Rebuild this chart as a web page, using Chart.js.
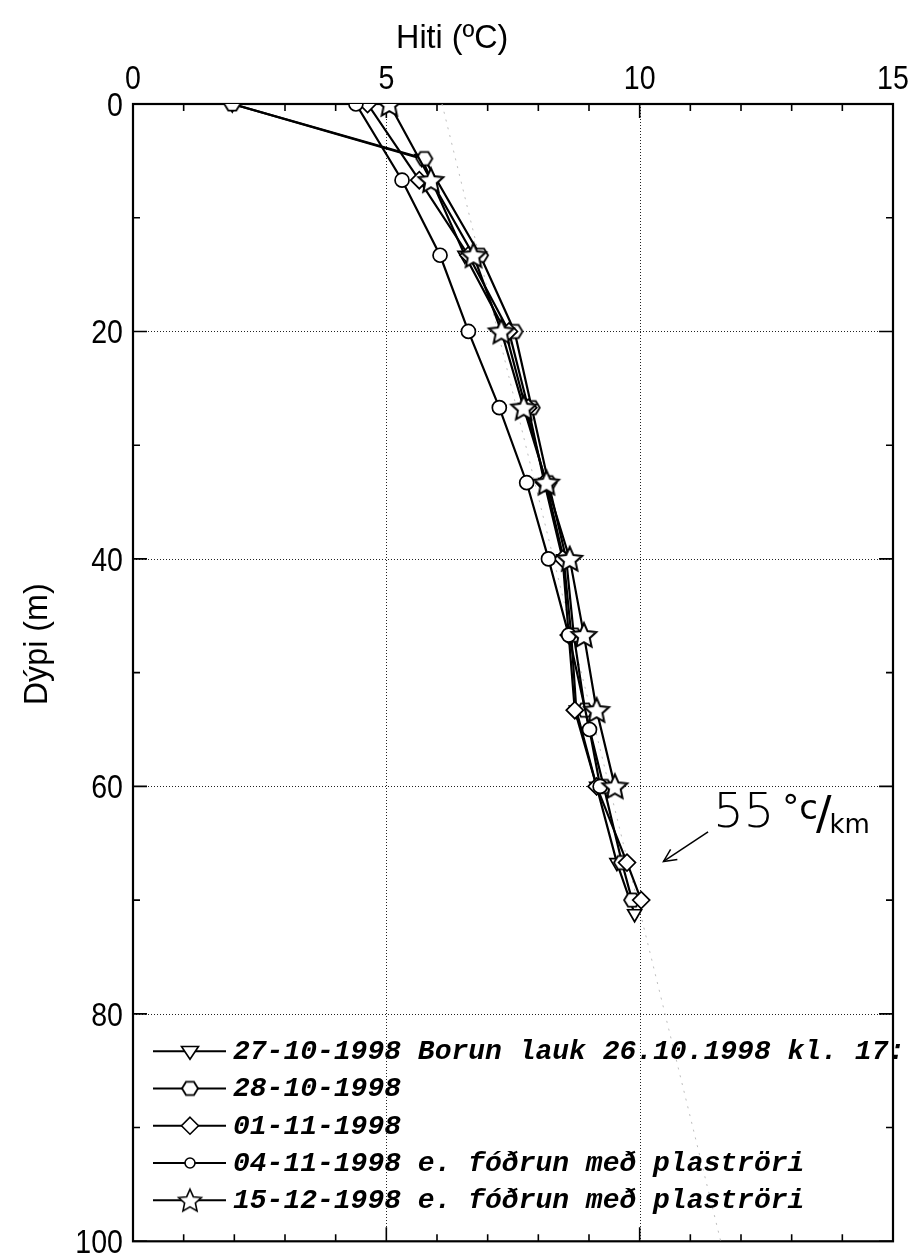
<!DOCTYPE html>
<html>
<head>
<meta charset="utf-8">
<script src="https://cdn.jsdelivr.net/npm/chart.js@4/dist/chart.umd.min.js"></script>
<style>
html,body{margin:0;padding:0;background:#fff;}
#wrap{width:915px;height:1256px;position:relative;}
</style>
</head>
<body>
<div id="wrap"><canvas id="c" width="915" height="1256"></canvas></div>
<script>
// ---------- data ----------
const seriesLabels = [
  '27-10-1998 Borun lauk 26.10.1998 kl. 17:',
  '28-10-1998',
  '01-11-1998',
  '04-11-1998 e. fóðrun með plaströri',
  '15-12-1998 e. fóðrun með plaströri'
];
// depth (m) and temperature (°C) per measurement
const depth_271098 = [0, 4.8, 13.3, 20, 26.7, 33.3, 40, 46.7, 53.3, 60, 66.7, 71.2];
const temp_271098  = [1.96, 5.70, 6.55, 7.35, 7.75, 8.15, 8.50, 8.65, 8.75, 9.15, 9.55, 9.90];

const depth_281098 = [0, 4.8, 13.3, 20, 26.7, 33.3, 40, 46.7, 53.3, 60, 66.7, 70];
const temp_281098  = [1.96, 5.75, 6.85, 7.53, 7.87, 8.20, 8.55, 8.70, 8.92, 9.29, 9.65, 9.85];

const depth_011198 = [0, 6.7, 13.3, 20, 26.7, 33.3, 40, 46.7, 53.3, 60, 66.7, 70];
const temp_011198  = [4.63, 5.65, 6.62, 7.42, 7.80, 8.12, 8.48, 8.60, 8.72, 9.15, 9.75, 10.03];

const depth_041198 = [0, 6.7, 13.3, 20, 26.7, 33.3, 40, 46.7, 55, 60];
const temp_041198  = [4.40, 5.31, 6.06, 6.62, 7.23, 7.77, 8.20, 8.60, 9.01, 9.22];

const depth_151298 = [0, 6.7, 13.3, 20, 26.7, 33.3, 40, 46.7, 53.3, 60];
const temp_151298  = [5.06, 5.88, 6.72, 7.27, 7.71, 8.16, 8.62, 8.90, 9.15, 9.51];

// hand-drawn pencil gradient line (55 °C/km) end points
const pencilDepth = [0, 100];
const pencilTemp  = [6.1, 11.6];

// axis ticks
const xTickLabels = [0, 5, 10, 15];
const xMinorTicks = [1, 2, 3, 4, 6, 7, 8, 9, 11, 12, 13, 14];
const xGridValues = [5, 10];
const yTickLabels = [0, 20, 40, 60, 80, 100];
const yMinorTicks = [10, 30, 50, 70, 90];
const yGridValues = [20, 40, 60, 80];

const xTitle = 'Hiti (ºC)';
const yTitle = 'Dýpi (m)';
const noteText = ['55', '°c', '/', 'km'];

// ---------- marker images ----------
function makeStar(R, lw) {
  const s = Math.ceil(2 * R + lw * 2 + 2);
  const c = document.createElement('canvas'); c.width = c.height = s;
  const g = c.getContext('2d'); g.translate(s / 2, s / 2 + 1);
  g.beginPath();
  for (let i = 0; i < 10; i++) {
    const r = i % 2 ? R * 0.47 : R;
    const a = -Math.PI / 2 + i * Math.PI / 5;
    g.lineTo(r * Math.cos(a), r * Math.sin(a));
  }
  g.closePath(); g.fillStyle = '#fff'; g.fill();
  g.lineWidth = lw; g.strokeStyle = '#000'; g.lineJoin = 'miter'; g.stroke();
  return c;
}
function makeHex(R, lw) {
  const s = Math.ceil(2 * R + lw * 2 + 2);
  const c = document.createElement('canvas'); c.width = c.height = s;
  const g = c.getContext('2d'); g.translate(s / 2, s / 2);
  g.beginPath();
  for (let i = 0; i < 6; i++) {
    const a = i * Math.PI / 3;
    g.lineTo(R * Math.cos(a), R * 0.95 * Math.sin(a));
  }
  g.closePath(); g.fillStyle = '#fff'; g.fill();
  g.lineWidth = lw; g.strokeStyle = '#000'; g.stroke();
  return c;
}
const starImg = makeStar(13, 2);
const starImgSmall = makeStar(12, 1.6);
const hexImg = makeHex(8, 1.8);

function pts(xs, ys) { return xs.map((v, i) => ({x: v, y: ys[i]})); }

const common = {
  showLine: true, tension: 0, borderColor: '#000', borderWidth: 2.2,
  pointBackgroundColor: '#fff', pointBorderColor: '#000', pointBorderWidth: 1.7,
  clip: 0
};

const datasets = [
  Object.assign({}, common, {label: seriesLabels[4], data: pts(temp_151298, depth_151298), pointStyle: starImg, pointRadius: 13, legendStyle: 'star'}),
  Object.assign({}, common, {label: seriesLabels[3], data: pts(temp_041198, depth_041198), pointStyle: 'circle', pointRadius: 7, legendStyle: 'circle'}),
  Object.assign({}, common, {label: seriesLabels[2], data: pts(temp_011198, depth_011198), pointStyle: 'rectRot', pointRadius: 8.5, legendStyle: 'diamond'}),
  Object.assign({}, common, {label: seriesLabels[1], data: pts(temp_281098, depth_281098), pointStyle: hexImg, pointRadius: 8, legendStyle: 'hex'}),
  Object.assign({}, common, {label: seriesLabels[0], data: pts(temp_271098, depth_271098), pointStyle: 'triangle', rotation: 180, pointRadius: 8, legendStyle: 'tri'}),
  {label: '', data: pts(pencilTemp, pencilDepth), showLine: true, borderColor: '#bdbdbd', borderWidth: 1, borderDash: [2, 6], pointRadius: 0, clip: 0, legendStyle: null}
];

const labelFamily = '"Liberation Sans", Arial, sans-serif';
const narrow = 0.84;

// ---------- frame, ticks, grid ----------
const framePlugin = {
  id: 'frame',
  beforeDatasetsDraw(chart) {
    const {ctx, chartArea: a, scales: {x, y}} = chart;
    ctx.save();
    ctx.strokeStyle = '#222'; ctx.lineWidth = 1; ctx.setLineDash([1, 2]);
    xGridValues.forEach(v => { const px = Math.round(x.getPixelForValue(v)) + 0.5; ctx.beginPath(); ctx.moveTo(px, a.top); ctx.lineTo(px, a.bottom); ctx.stroke(); });
    yGridValues.forEach(v => { const py = Math.round(y.getPixelForValue(v)) + 0.5; ctx.beginPath(); ctx.moveTo(a.left, py); ctx.lineTo(a.right, py); ctx.stroke(); });
    ctx.setLineDash([]);
    ctx.strokeStyle = '#000'; ctx.lineWidth = 1.6;
    const xt = (v, len) => { const px = x.getPixelForValue(v); ctx.beginPath(); ctx.moveTo(px, a.top); ctx.lineTo(px, a.top + len); ctx.moveTo(px, a.bottom); ctx.lineTo(px, a.bottom - len); ctx.stroke(); };
    const yt = (v, len) => { const py = y.getPixelForValue(v); ctx.beginPath(); ctx.moveTo(a.left, py); ctx.lineTo(a.left + len, py); ctx.moveTo(a.right, py); ctx.lineTo(a.right - len, py); ctx.stroke(); };
    xMinorTicks.forEach(v => xt(v, 7));
    xTickLabels.forEach(v => xt(v, 14));
    yMinorTicks.forEach(v => yt(v, 7));
    yTickLabels.forEach(v => yt(v, 14));
    ctx.lineWidth = 2.2; ctx.strokeRect(a.left, a.top, a.right - a.left, a.bottom - a.top);
    ctx.restore();
  }
};

// axis labels and titles drawn at the scales' own pixel positions
function narrowText(ctx, text, cx, cy, align, factor) {
  ctx.save();
  ctx.translate(cx, cy); ctx.scale(factor, 1);
  ctx.textAlign = align; ctx.fillText(text, 0, 0);
  ctx.restore();
}
const axisLabelPlugin = {
  id: 'axisLabels',
  afterDraw(chart) {
    const {ctx, chartArea: a, scales: {x, y}} = chart;
    ctx.save();
    ctx.fillStyle = '#000'; ctx.textBaseline = 'alphabetic';
    ctx.font = '34px ' + labelFamily;
    xTickLabels.forEach(v => narrowText(ctx, String(v), x.getPixelForValue(v), a.top - 15, 'center', narrow));
    yTickLabels.forEach(v => narrowText(ctx, String(v), a.left - 10, y.getPixelForValue(v) + 12, 'right', narrow));
    ctx.font = '34px ' + labelFamily;
    narrowText(ctx, xTitle, x.getPixelForValue(6.3), 48, 'center', 0.95);
    ctx.save();
    ctx.translate(47, y.getPixelForValue(47.5)); ctx.rotate(-Math.PI / 2);
    ctx.scale(0.95, 1); ctx.textAlign = 'center'; ctx.fillText(yTitle, 0, 0);
    ctx.restore();
    ctx.restore();
  }
};

// ---------- legend & note ----------
function drawMarker(ctx, style, cx, cy) {
  ctx.save();
  ctx.fillStyle = '#fff'; ctx.strokeStyle = '#000'; ctx.lineWidth = 1.6;
  if (style === 'star') { ctx.drawImage(starImgSmall, cx - starImgSmall.width / 2, cy - starImgSmall.height / 2); }
  else if (style === 'hex') { ctx.drawImage(hexImg, cx - hexImg.width / 2, cy - hexImg.height / 2); }
  else if (style === 'circle') { ctx.beginPath(); ctx.arc(cx, cy, 5, 0, Math.PI * 2); ctx.fill(); ctx.stroke(); }
  else if (style === 'diamond') { const r = 8.5; ctx.beginPath(); ctx.moveTo(cx, cy - r); ctx.lineTo(cx + r, cy); ctx.lineTo(cx, cy + r); ctx.lineTo(cx - r, cy); ctx.closePath(); ctx.fill(); ctx.stroke(); }
  else if (style === 'tri') { const r = 8.5; ctx.beginPath(); ctx.moveTo(cx - r, cy - r * 0.55); ctx.lineTo(cx + r, cy - r * 0.55); ctx.lineTo(cx, cy + r * 0.95); ctx.closePath(); ctx.fill(); ctx.stroke(); }
  ctx.restore();
}

const legendPlugin = {
  id: 'customLegend',
  afterDraw(chart) {
    const {ctx, chartArea: a, scales: {y}} = chart;
    const order = [4, 3, 2, 1, 0];
    const y80 = y.getPixelForValue(80);
    const step = (a.bottom - y80) / 6.1;
    ctx.save();
    ctx.font = 'italic bold 28px "Liberation Mono", "Courier New", monospace';
    ctx.fillStyle = '#000'; ctx.textBaseline = 'middle'; ctx.textAlign = 'left';
    order.forEach((di, r) => {
      const ds = chart.data.datasets[di];
      const yy = y80 + (r + 1) * step;
      ctx.strokeStyle = '#000'; ctx.lineWidth = 2;
      ctx.beginPath(); ctx.moveTo(a.left + 20, yy); ctx.lineTo(a.left + 93, yy); ctx.stroke();
      drawMarker(ctx, ds.legendStyle, a.left + 57, yy);
      ctx.fillText(ds.label, a.left + 100, yy + 1);
    });
    ctx.restore();
  }
};

const notePlugin = {
  id: 'note',
  afterDatasetsDraw(chart) {
    const {ctx, scales: {x, y}} = chart;
    const ax = x.getPixelForValue(11.45), ay = y.getPixelForValue(63.6);
    ctx.save();
    ctx.fillStyle = '#000'; ctx.textBaseline = 'alphabetic'; ctx.textAlign = 'left';
    ctx.font = '300 48px "DejaVu Sans", sans-serif';
    ctx.fillText(noteText[0], ax, ay);
    let w = ctx.measureText(noteText[0]).width;
    ctx.font = '34px "DejaVu Sans", sans-serif';
    ctx.fillText(noteText[1], ax + w + 8, ay - 8);
    w += 8 + ctx.measureText(noteText[1]).width;
    ctx.font = '46px "DejaVu Sans", sans-serif';
    ctx.fillText(noteText[2], ax + w - 2, ay + 2);
    w += ctx.measureText(noteText[2]).width;
    ctx.font = '26px "DejaVu Sans", sans-serif';
    ctx.fillText(noteText[3], ax + w - 4, ay + 6);
    const tx = x.getPixelForValue(10.47), ty = y.getPixelForValue(66.6);
    const fx = x.getPixelForValue(11.35), fy = y.getPixelForValue(64.0);
    ctx.strokeStyle = '#000'; ctx.lineWidth = 1.5;
    ctx.beginPath(); ctx.moveTo(fx, fy); ctx.lineTo(tx, ty); ctx.stroke();
    const ang = Math.atan2(ty - fy, tx - fx), L = 14;
    ctx.beginPath();
    ctx.moveTo(tx - L * Math.cos(ang - 0.45), ty - L * Math.sin(ang - 0.45));
    ctx.lineTo(tx, ty);
    ctx.lineTo(tx - L * Math.cos(ang + 0.45), ty - L * Math.sin(ang + 0.45));
    ctx.stroke();
    ctx.restore();
  }
};

new Chart(document.getElementById('c'), {
  type: 'scatter',
  data: {datasets},
  options: {
    responsive: false, animation: false, devicePixelRatio: 1,
    layout: {padding: {left: 0, right: 22, top: 0, bottom: 12}},
    plugins: {legend: {display: false}, tooltip: {enabled: false}},
    scales: {
      x: {
        type: 'linear', position: 'top', min: 0, max: 15,
        grid: {display: false}, border: {display: false},
        afterBuildTicks: s => { s.ticks = xTickLabels.map(v => ({value: v})); },
        afterFit: s => { s.height = 104; },
        ticks: {display: false}
      },
      y: {
        type: 'linear', position: 'left', reverse: true, min: 0, max: 100,
        grid: {display: false}, border: {display: false},
        afterBuildTicks: s => { s.ticks = yTickLabels.map(v => ({value: v})); },
        afterFit: s => { s.width = 133; },
        ticks: {display: false}
      }
    }
  },
  plugins: [framePlugin, notePlugin, axisLabelPlugin, legendPlugin]
});
</script>
</body>
</html>
